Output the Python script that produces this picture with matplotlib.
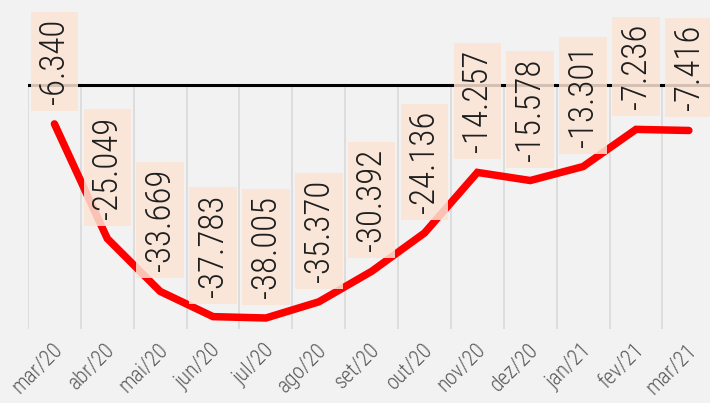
import matplotlib
matplotlib.use("Agg")
import matplotlib.pyplot as plt
from matplotlib import font_manager as fm
from matplotlib.transforms import ScaledTranslation

# saldo mensal (mil)
months = ["mar/20", "abr/20", "mai/20", "jun/20", "jul/20", "ago/20", "set/20",
          "out/20", "nov/20", "dez/20", "jan/21", "fev/21", "mar/21"]
saldo = [-6340, -25049, -33669, -37783, -38005, -35370, -30392,
         -24136, -14257, -15578, -13301, -7236, -7416]

BG = "#F2F2F2"
installed = {f.name for f in fm.fontManager.ttflist}
cands = ["Roboto Condensed", "Liberation Sans Narrow", "DejaVu Sans Condensed",
         "Noto Sans Condensed", "Open Sans Condensed", "Roboto", "Liberation Sans"]
FONT = next((c for c in cands if c in installed), "DejaVu Sans")
FKW = dict(family=FONT, fontstretch="condensed", fontweight="light")

fig = plt.figure(figsize=(7.1, 4.03), dpi=100, facecolor=BG)
ax = fig.add_axes([28 / 710, 74 / 403, 1 - 28 / 710, 329 / 403])
ax.set_facecolor(BG)
ymin, ymax = -39800, 13870
ax.set_xlim(-0.5, 12.4)
ax.set_ylim(ymin, ymax)

r = fig.canvas.get_renderer()


def fit(txt, px):
    # font size that makes txt about px pixels long
    t = fig.text(0, 0, txt, fontsize=20, **FKW)
    w = t.get_window_extent(r).width
    t.remove()
    return 20 * px / w


fs = fit("-25.049", 102)
tfs = fit("mar/20", 62)
pad = 7 / (fs * 100 / 72)

# separadores de categoria e linha do zero
ax.vlines([i - 0.5 for i in range(len(months))], ymin, 0, color="#D9D9D9", lw=1.2, zorder=1)
ax.axhline(0, color="black", lw=2.2, zorder=2)

ax.plot(range(len(months)), saldo, color="#FF0000", lw=5.4,
        solid_capstyle="round", solid_joinstyle="miter", zorder=3)

for i, v in enumerate(saldo):
    ax.annotate(f"{v:,}".replace(",", "."), (i, v), xytext=(0, 20),
                textcoords="offset pixels", rotation=90, ha="center", va="bottom",
                fontsize=fs, color="#1e1e1e", zorder=5, annotation_clip=False,
                bbox=dict(boxstyle=f"square,pad={pad:.3f}", fc="#FBE4D5", ec="none", alpha=0.85),
                **FKW)

ax.set_xticks(range(len(months)))
ax.set_xticklabels(months, rotation=45, ha="right", va="center", rotation_mode="anchor",
                   fontsize=tfs, color="#595959", **FKW)
ax.tick_params(axis="x", length=0, pad=13)
off = ScaledTranslation(5 / 100, 0, fig.dpi_scale_trans)
for lab in ax.get_xticklabels():
    lab.set_transform(lab.get_transform() + off)
ax.set_yticks([])
for s in ax.spines.values():
    s.set_visible(False)

fig.savefig("out.png", dpi=100, facecolor=BG)
